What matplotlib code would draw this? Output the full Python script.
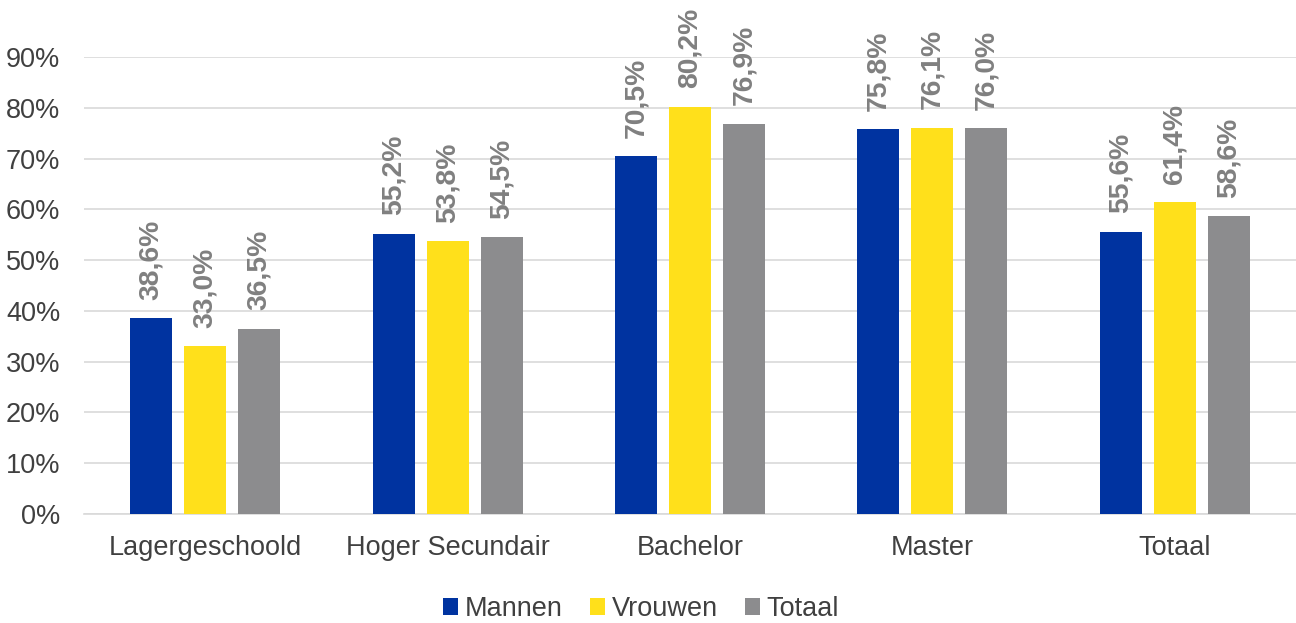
import numpy as np
import matplotlib.pyplot as plt

plt.rcParams['font.family'] = ['Liberation Sans', 'DejaVu Sans']

# Data
categories = ["Lagergeschoold", "Hoger Secundair", "Bachelor", "Master", "Totaal"]
mannen = [38.6, 55.2, 70.5, 75.8, 55.6]
vrouwen = [33.0, 53.8, 80.2, 76.1, 61.4]
totaal = [36.5, 54.5, 76.9, 76.0, 58.6]
series_names = ["Mannen", "Vrouwen", "Totaal"]
colors = ["#0033A0", "#FFE01B", "#8C8C8E"]

fig = plt.figure(figsize=(12.96, 6.23), dpi=100)
# axes spans 0..90% from y=514 to y=57 (pixels)
ax = fig.add_axes([84 / 1296, 1 - 514 / 623, 1212 / 1296, (514 - 57) / 623])

x = np.arange(len(categories))
width = 0.173
offset = 0.223

for i, (vals, name, col) in enumerate(zip([mannen, vrouwen, totaal], series_names, colors)):
    pos = x + (i - 1) * offset
    ax.bar(pos, vals, width, color=col, label=name, zorder=3)
    for p, v in zip(pos, vals):
        ax.text(p, v + 3.6, f"{v:.1f}%".replace(".", ","), rotation=90, ha="center", va="bottom",
                fontsize=20.3, fontweight="bold", color="#808080", clip_on=False)

ax.set_xlim(-0.5, len(categories) - 0.5)
ax.set_ylim(0, 90)
ax.set_yticks(range(0, 91, 10))
ax.set_yticklabels([f"{t}%" for t in range(0, 91, 10)])
ax.set_xticks(x)
ax.set_xticklabels(categories)
ax.tick_params(axis="both", length=0, labelsize=19.5, colors="#404040")
ax.tick_params(axis="y", pad=17)
ax.tick_params(axis="x", pad=15)
ax.grid(axis="y", color="#D9D9D9", linewidth=1.2, zorder=0)
for s in ["top", "right", "left"]:
    ax.spines[s].set_visible(False)
ax.spines["bottom"].set_color("#D9D9D9")
ax.spines["bottom"].set_linewidth(1.2)

ax.legend(loc="lower center", bbox_to_anchor=(0.4596, -0.29), ncol=3, frameon=False,
          fontsize=19.5, handlelength=0.55, handleheight=0.55, handletextpad=0.25, columnspacing=1.0,
          labelcolor="#404040")

fig.savefig("out.png", dpi=100)
